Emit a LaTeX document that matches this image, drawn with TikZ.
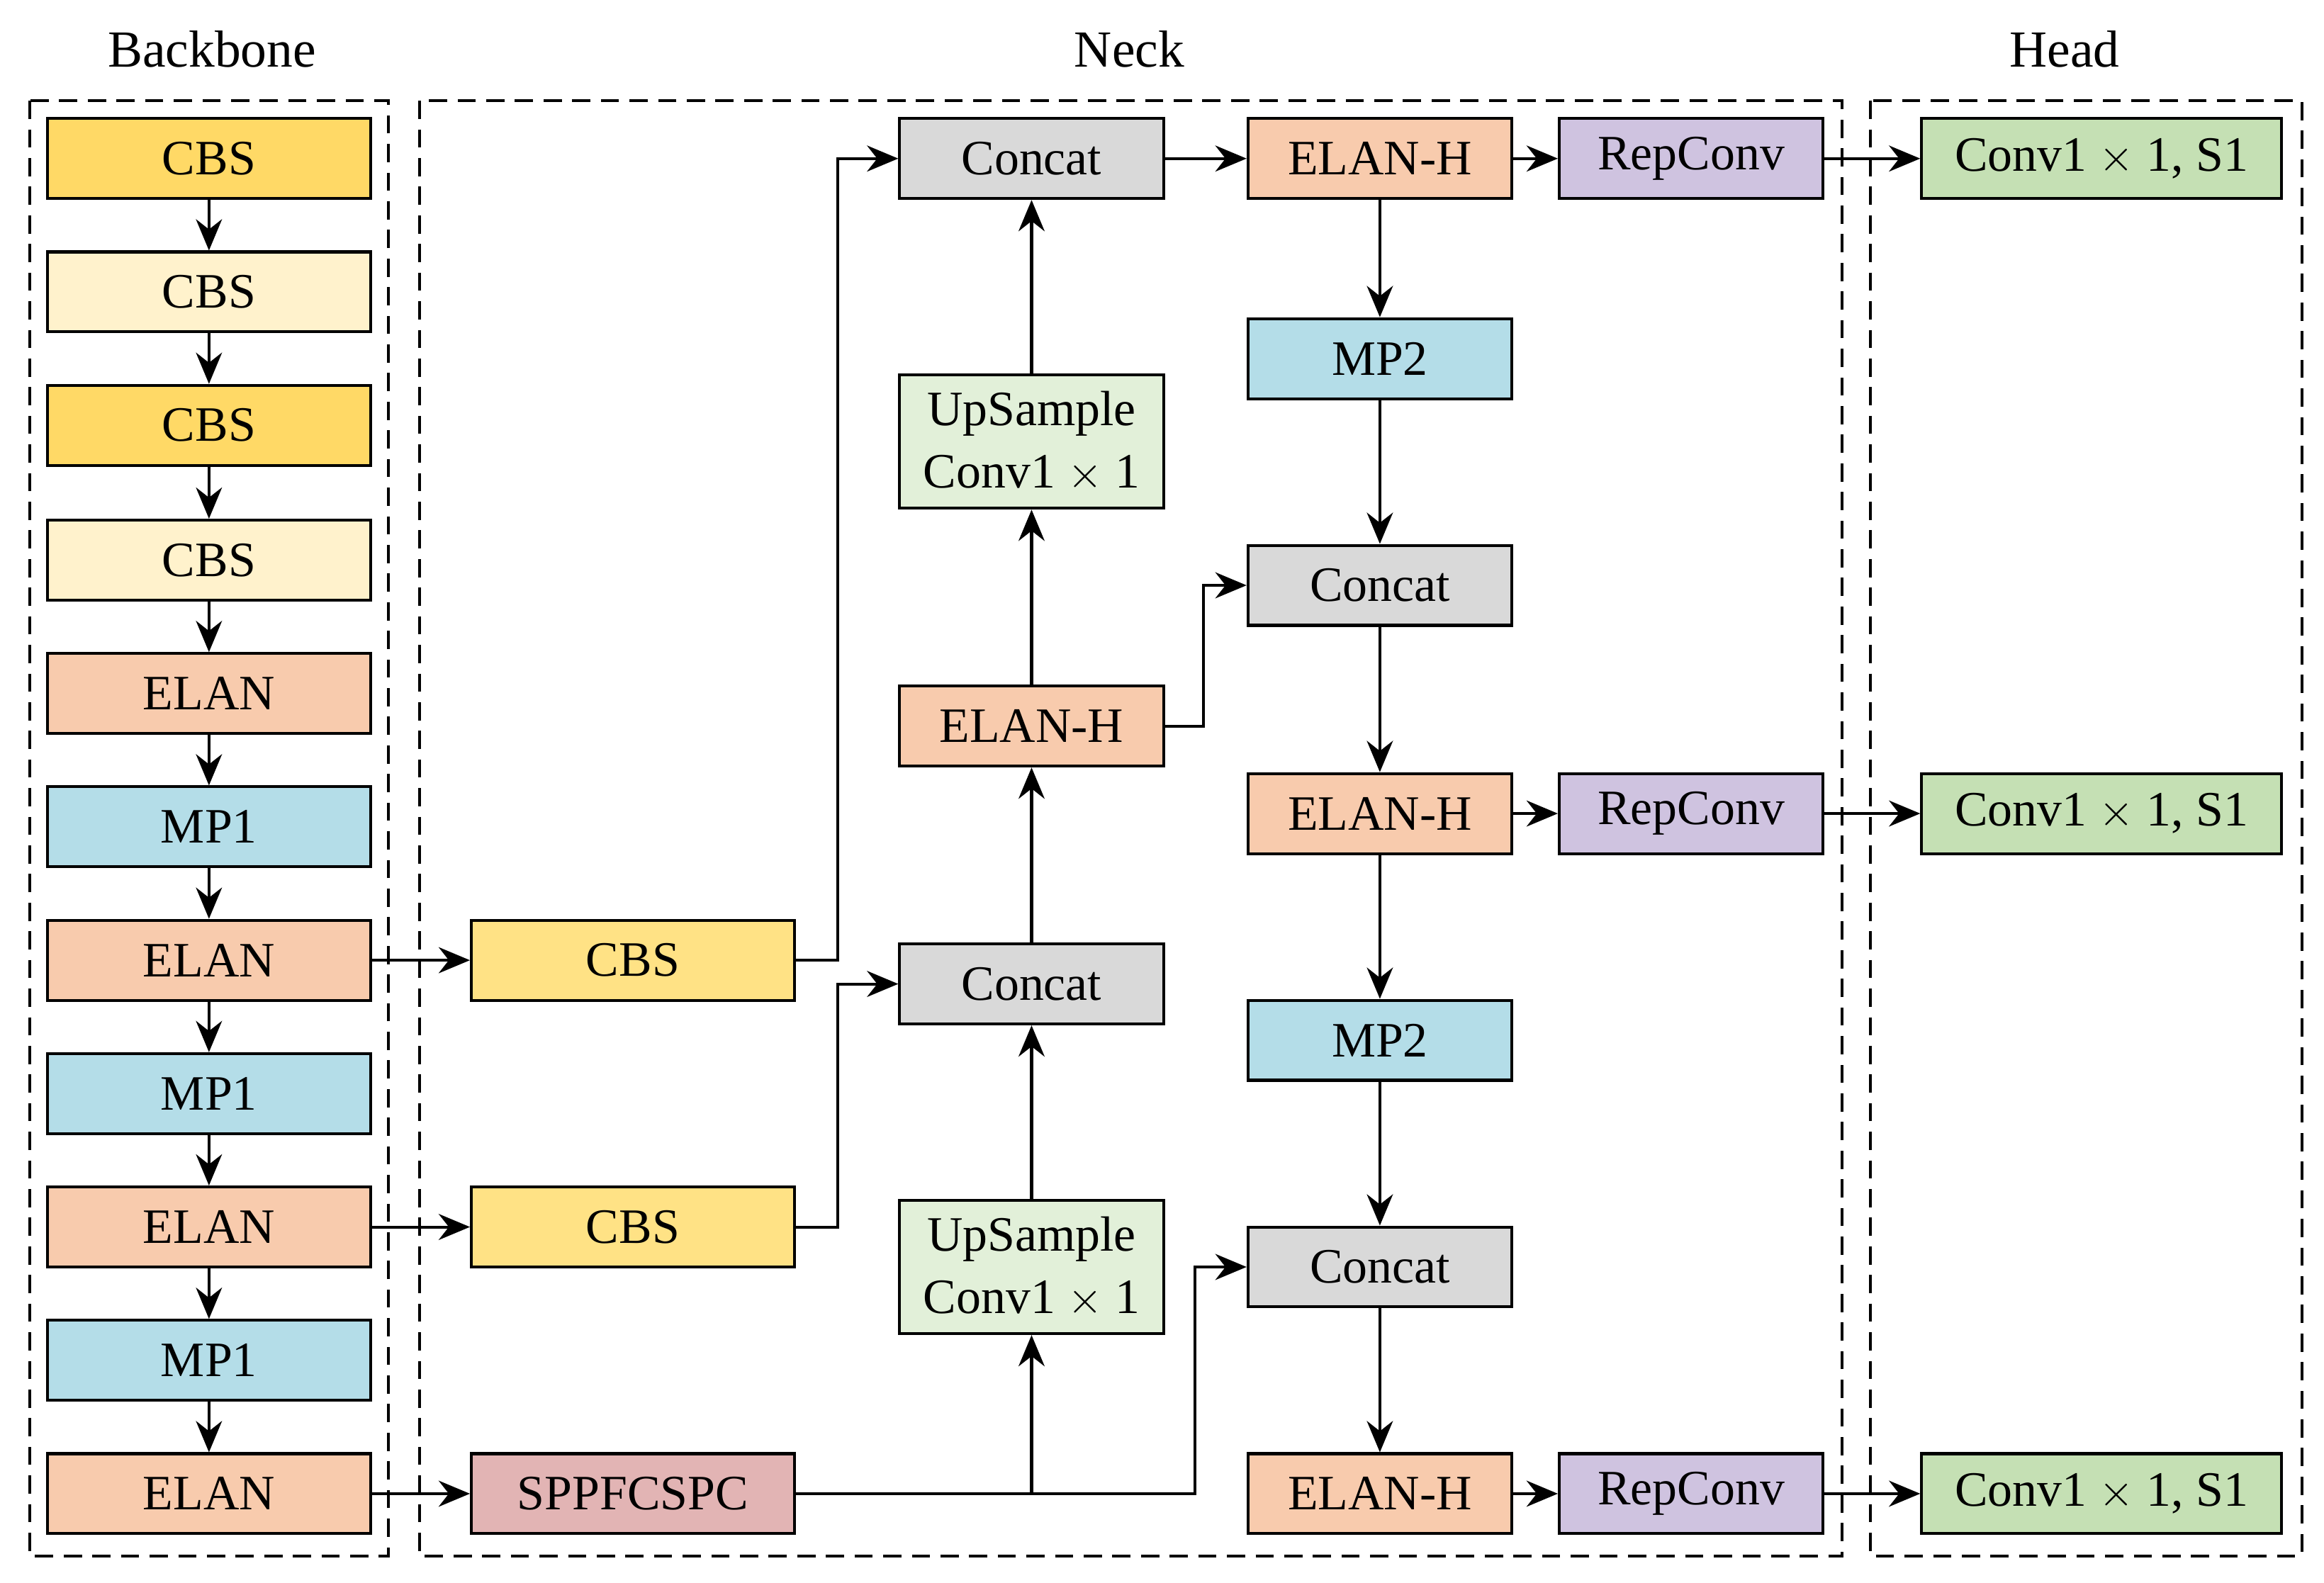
\documentclass[tikz,border=0pt]{standalone}
\usepackage{fontspec}
\setmainfont{Liberation Serif}
\usetikzlibrary{arrows.meta}
\definecolor{cbsA}{HTML}{FFD966}
\definecolor{cbsB}{HTML}{FFF2CC}
\definecolor{cbsN}{HTML}{FFE285}
\definecolor{elan}{HTML}{F8CBAD}
\definecolor{mp}{HTML}{B4DDE8}
\definecolor{gry}{HTML}{D9D9D9}
\definecolor{ups}{HTML}{E2F0D9}
\definecolor{rep}{HTML}{CFC3E0}
\definecolor{cnv}{HTML}{C5E0B4}
\definecolor{spp}{HTML}{E2B4B4}
\begin{document}
\begin{tikzpicture}[x=0.02cm,y=-0.02cm,
 box/.style={draw,line width=1.1pt,minimum height=1.08cm,inner sep=0pt,font=\fontsize{19}{22}\selectfont,align=center},
 bb/.style={box,minimum width=4.36cm},
 c2/.style={box,minimum width=3.56cm},
 hd/.style={box,minimum width=4.86cm},
 ar/.style={line width=1.1pt,-{Stealth[length=12pt,width=10pt]}},
 ln/.style={line width=1.1pt},
 dsh/.style={draw,line width=1.1pt,dash pattern=on 7pt off 4pt},
 ttl/.style={font=\fontsize{20}{24}\selectfont}]
\useasboundingbox (0,0) rectangle (1568,1068);
\draw[dsh] (20,68) rectangle (262,1050);
\draw[dsh] (283,68) rectangle (1243,1050);
\draw[dsh] (1262,68) rectangle (1553,1050);
\node[ttl] (tb) at (143,33) {Backbone};
\node[ttl] (tn) at (762,33) {Neck};
\node[ttl] (th) at (1393,33) {Head};
% backbone
\node[bb,fill=cbsA] (b1) at (141,107) {CBS};
\node[bb,fill=cbsB] (b2) at (141,197) {CBS};
\node[bb,fill=cbsA] (b3) at (141,287) {CBS};
\node[bb,fill=cbsB] (b4) at (141,378) {CBS};
\node[bb,fill=elan] (b5) at (141,468) {ELAN};
\node[bb,fill=mp] (b6) at (141,558) {MP1};
\node[bb,fill=elan] (b7) at (141,648) {ELAN};
\node[bb,fill=mp] (b8) at (141,738) {MP1};
\node[bb,fill=elan] (b9) at (141,828) {ELAN};
\node[bb,fill=mp] (b10) at (141,918) {MP1};
\node[bb,fill=elan] (b11) at (141,1008) {ELAN};
\foreach \a/\b in {b1/b2,b2/b3,b3/b4,b4/b5,b5/b6,b6/b7,b7/b8,b8/b9,b9/b10,b10/b11}
 \draw[ar] (\a) -- (\b);
% neck col1
\node[bb,fill=cbsN] (n1) at (427,648) {CBS};
\node[bb,fill=cbsN] (n2) at (427,828) {CBS};
\node[bb,fill=spp] (n3) at (427,1008) {SPPFCSPC};
\draw[ar] (b7) -- (n1);
\draw[ar] (b9) -- (n2);
\draw[ar] (b11) -- (n3);
% col2
\node[c2,fill=gry] (c1) at (696,107) {Concat};
\node[c2,fill=ups,minimum height=1.8cm] (u1) at (696,298) {UpSample\\[2pt]Conv1 $\times$ 1};
\node[c2,fill=elan] (e1) at (696,490) {ELAN-H};
\node[c2,fill=gry] (c2) at (696,664) {Concat};
\node[c2,fill=ups,minimum height=1.8cm] (u2) at (696,855) {UpSample\\[2pt]Conv1 $\times$ 1};
\draw[ar] (u1) -- (c1);
\draw[ar] (e1) -- (u1);
\draw[ar] (c2) -- (e1);
\draw[ar] (u2) -- (c2);
\draw[ar] (n1.east) -- (565,648) |- (c1.west);
\draw[ar] (n2.east) -- (565,828) |- (c2.west);
\coordinate (j) at (696,1008);
\draw[ln] (n3.east) -- (j);
\draw[ar] (j) -- (u2);
% col3
\node[c2,fill=elan] (h1) at (931,107) {ELAN-H};
\node[c2,fill=mp] (m1) at (931,242) {MP2};
\node[c2,fill=gry] (k1) at (931,395) {Concat};
\node[c2,fill=elan] (h2) at (931,549) {ELAN-H};
\node[c2,fill=mp] (m2) at (931,702) {MP2};
\node[c2,fill=gry] (k2) at (931,855) {Concat};
\node[c2,fill=elan] (h3) at (931,1008) {ELAN-H};
\foreach \a/\b in {h1/m1,m1/k1,k1/h2,h2/m2,m2/k2,k2/h3} \draw[ar] (\a) -- (\b);
\draw[ar] (c1) -- (h1);
\draw[ar] (e1.east) -- (812,490) |- (k1.west);
\draw[ar] (j) -- (806,1008) |- (k2.west);
% repconv & head
\node[c2,fill=rep] (r1) at (1141,107) {RepConv};
\node[c2,fill=rep] (r2) at (1141,549) {RepConv};
\node[c2,fill=rep] (r3) at (1141,1008) {RepConv};
\node[hd,fill=cnv] (o1) at (1418,107) {Conv1 $\times$ 1, S1};
\node[hd,fill=cnv] (o2) at (1418,549) {Conv1 $\times$ 1, S1};
\node[hd,fill=cnv] (o3) at (1418,1008) {Conv1 $\times$ 1, S1};
\draw[ar] (h1) -- (r1); \draw[ar] (r1) -- (o1);
\draw[ar] (h2) -- (r2); \draw[ar] (r2) -- (o2);
\draw[ar] (h3) -- (r3); \draw[ar] (r3) -- (o3);
\end{tikzpicture}
\end{document}
